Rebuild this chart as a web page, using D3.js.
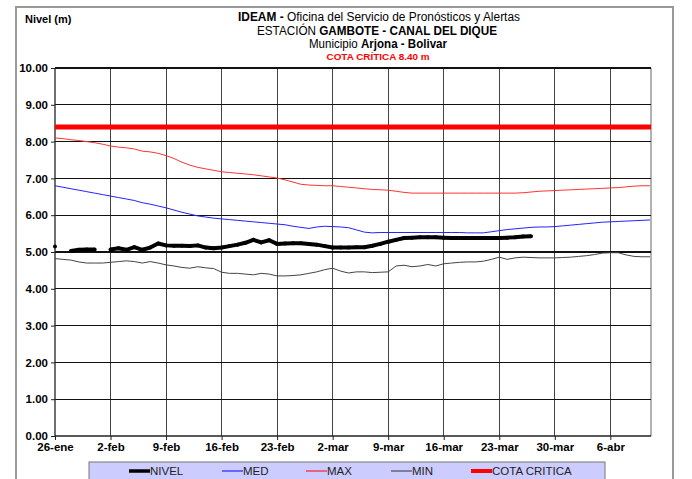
<!DOCTYPE html>
<html><head><meta charset="utf-8">
<script src="https://cdn.jsdelivr.net/npm/d3@7"></script>
<style>
body{margin:0;background:#fff;}
svg{display:block;font-family:"Liberation Sans",Arial,sans-serif;}
</style></head>
<body><svg id="c" width="692" height="479"></svg>
<script>
const startDate = "2015-01-26";
const endDate = "2015-04-11";
const tickDates = ["2015-01-26","2015-02-02","2015-02-09","2015-02-16","2015-02-23","2015-03-02","2015-03-09","2015-03-16","2015-03-23","2015-03-30","2015-04-06"];
const monthNames = ["ene","feb","mar","abr","may","jun","jul","ago","sep","oct","nov","dic"];
const yTicks = [0,1,2,3,4,5,6,7,8,9,10];
const cotaCritica = 8.40;

const nivel = [5.15,null,5.03,5.06,5.07,5.07,null,5.07,5.10,5.06,5.13,5.06,5.12,5.23,5.18,5.17,5.17,5.16,5.18,5.12,
  5.10,5.12,5.16,5.20,5.25,5.33,5.26,5.32,5.22,5.23,5.24,5.24,5.22,5.20,5.16,5.12,5.12,5.12,5.13,5.13,
  5.17,5.22,5.28,5.33,5.38,5.39,5.40,5.40,5.40,5.39,5.38,5.38,5.38,5.38,5.38,5.38,5.38,5.39,5.40,5.42,5.43];
const med = [6.80,6.76,6.72,6.68,6.64,6.60,6.56,6.52,6.48,6.44,6.40,6.34,6.30,6.25,6.20,6.14,6.08,6.03,5.98,5.95,
  5.92,5.90,5.88,5.86,5.84,5.82,5.80,5.78,5.76,5.74,5.70,5.67,5.64,5.68,5.70,5.69,5.68,5.66,5.60,5.54,
  5.52,5.53,5.53,5.53,5.53,5.53,5.53,5.53,5.53,5.53,5.53,5.53,5.52,5.52,5.52,5.55,5.58,5.61,5.63,5.65,
  5.67,5.68,5.68,5.69,5.71,5.73,5.75,5.77,5.79,5.81,5.82,5.83,5.84,5.85,5.86,5.87];
const max = [8.10,8.08,8.05,8.03,8.00,7.97,7.93,7.88,7.85,7.83,7.80,7.74,7.72,7.68,7.62,7.54,7.44,7.36,7.30,7.26,
  7.22,7.18,7.16,7.14,7.12,7.10,7.07,7.04,7.01,6.96,6.90,6.84,6.82,6.81,6.80,6.80,6.78,6.76,6.74,6.72,
  6.70,6.69,6.68,6.65,6.62,6.60,6.60,6.60,6.60,6.60,6.60,6.60,6.60,6.60,6.60,6.60,6.60,6.60,6.60,6.61,
  6.63,6.65,6.66,6.67,6.68,6.69,6.70,6.71,6.72,6.73,6.74,6.75,6.77,6.79,6.80,6.80];
const min = [4.82,4.80,4.78,4.73,4.70,4.70,4.70,4.72,4.74,4.76,4.74,4.70,4.74,4.70,4.65,4.62,4.58,4.56,4.60,4.57,
  4.55,4.45,4.42,4.42,4.40,4.38,4.42,4.40,4.35,4.35,4.36,4.38,4.42,4.46,4.52,4.56,4.48,4.43,4.46,4.46,
  4.44,4.45,4.46,4.62,4.64,4.60,4.62,4.66,4.62,4.68,4.70,4.72,4.73,4.73,4.75,4.80,4.86,4.80,4.84,4.86,
  4.85,4.84,4.84,4.84,4.85,4.86,4.88,4.90,4.93,4.97,4.98,4.98,4.92,4.88,4.87,4.87];

const seriesLegend = [
  {name:"NIVEL", color:"#000", width:4},
  {name:"MED", color:"#0000ff", width:1},
  {name:"MAX", color:"#ff0000", width:1},
  {name:"MIN", color:"#333", width:1},
  {name:"COTA CRITICA", color:"#ff0000", width:5}
];

const parse = d3.timeParse("%Y-%m-%d");
const t0 = parse(startDate);
const dayOf = i => d3.timeDay.offset(t0, i);
const toPts = arr => arr.map((v,i)=>({date:dayOf(i), v}));

const svg = d3.select("#c");
const x = d3.scaleTime().domain([t0, parse(endDate)]).range([55, 650]);
const y = d3.scaleLinear().domain([0,10]).range([436, 68]);

// outer frame
svg.append("path").attr("d","M16,490 V7 H673 V490").attr("fill","none").attr("stroke","#999").attr("stroke-width",2);

// titles
const tt = svg.append("g").attr("text-anchor","middle").attr("fill","#000");
const l1 = tt.append("text").attr("x",379).attr("y",21).attr("font-size",12).attr("textLength",282).attr("lengthAdjust","spacingAndGlyphs");
l1.append("tspan").attr("font-weight","bold").text("IDEAM - ");
l1.append("tspan").text("Oficina  del Servicio de Pronósticos  y Alertas");
const l2 = tt.append("text").attr("x",377).attr("y",35).attr("font-size",12).attr("textLength",240).attr("lengthAdjust","spacingAndGlyphs");
l2.append("tspan").text("ESTACIÓN  ");
l2.append("tspan").attr("font-weight","bold").text("GAMBOTE - CANAL DEL DIQUE");
const l3 = tt.append("text").attr("x",378).attr("y",48).attr("font-size",12).attr("textLength",138).attr("lengthAdjust","spacingAndGlyphs");
l3.append("tspan").text("Municipio ");
l3.append("tspan").attr("font-weight","bold").text("Arjona - Bolivar");
tt.append("text").attr("x",378).attr("y",60).attr("font-size",9.5).attr("font-weight","bold").attr("fill","#ff0000")
  .attr("textLength",103).attr("lengthAdjust","spacingAndGlyphs").text("COTA CRÍTICA 8.40 m");

svg.append("text").attr("x",25).attr("y",23).attr("font-size",11).attr("font-weight","bold").text("Nivel (m)");

// gridlines
svg.append("g").selectAll("line").data(tickDates.slice(1)).join("line")
  .attr("x1",d=>x(parse(d))).attr("x2",d=>x(parse(d))).attr("y1",y(10)).attr("y2",y(0))
  .attr("stroke","#444").attr("stroke-width",1).attr("shape-rendering","crispEdges");
svg.append("line").attr("x1",651).attr("x2",651).attr("y1",y(10)).attr("y2",y(0)).attr("stroke","#999").attr("stroke-width",1.5);
svg.append("g").selectAll("line").data(yTicks.slice(1)).join("line")
  .attr("x1",55).attr("x2",651).attr("y1",d=>y(d)).attr("y2",d=>y(d))
  .attr("stroke","#111").attr("stroke-width",1.3).attr("shape-rendering","crispEdges");

// axes
const yAxis = d3.axisLeft(y).tickValues(yTicks).tickFormat(d3.format(".2f")).tickSize(4).tickPadding(3);
const gy = svg.append("g").attr("transform","translate(55,0)").call(yAxis);
const xAxis = d3.axisBottom(x).tickValues(tickDates.map(parse)).tickFormat(d=>d.getDate()+"-"+monthNames[d.getMonth()]).tickSize(4).tickPadding(3);
const gx = svg.append("g").attr("transform","translate(0,436)").call(xAxis);
[gx,gy].forEach(g=>{
  g.selectAll("path.domain").attr("stroke","#222").attr("stroke-width",1.3);
  g.selectAll(".tick line").attr("stroke","#222");
  g.selectAll("text").attr("font-size",11.5).attr("font-weight","bold").attr("fill","#000").attr("font-family","Liberation Sans, Arial, sans-serif");
});
gy.select("path.domain").attr("d","M0,"+y(0)+"V"+y(10));
gx.select("path.domain").attr("d","M55,0H651");

// cota critica
svg.append("line").attr("x1",x(t0)).attr("x2",651).attr("y1",y(cotaCritica)).attr("y2",y(cotaCritica))
  .attr("stroke","#ff0000").attr("stroke-width",5);

const line = d3.line().defined(d=>d.v!=null).x(d=>x(d.date)).y(d=>y(d.v));
const plot = svg.append("g");
plot.append("path").datum(toPts(max)).attr("d",line).attr("fill","none").attr("stroke","#ff3333").attr("stroke-width",1);
plot.append("path").datum(toPts(med)).attr("d",line).attr("fill","none").attr("stroke","#2222ff").attr("stroke-width",1);
plot.append("path").datum(toPts(min)).attr("d",line).attr("fill","none").attr("stroke","#444").attr("stroke-width",1);
const np = toPts(nivel);
plot.append("path").datum(np).attr("d",line).attr("fill","none").attr("stroke","#000").attr("stroke-width",4).attr("stroke-linejoin","round");
plot.selectAll("circle").data(np.filter(d=>d.v!=null)).join("circle")
  .attr("cx",d=>x(d.date)).attr("cy",d=>y(d.v)).attr("r",2).attr("fill","#000");

// legend
const lg = svg.append("g");
lg.append("rect").attr("x",89).attr("y",462).attr("width",516).attr("height",30).attr("fill","#ccccff").attr("stroke","#777").attr("stroke-width",1);
const legX = [129,222,306,391,471];
seriesLegend.forEach((s,i)=>{
  lg.append("line").attr("x1",legX[i]).attr("x2",legX[i]+21).attr("y1",471).attr("y2",471)
    .attr("stroke",s.color).attr("stroke-width",s.name==="NIVEL"?3.5:(s.width>1?4:1));
  lg.append("text").attr("x",legX[i]+21).attr("y",475).attr("font-size",11.5).attr("fill","#222").text(s.name);
});
</script>
</body></html>
